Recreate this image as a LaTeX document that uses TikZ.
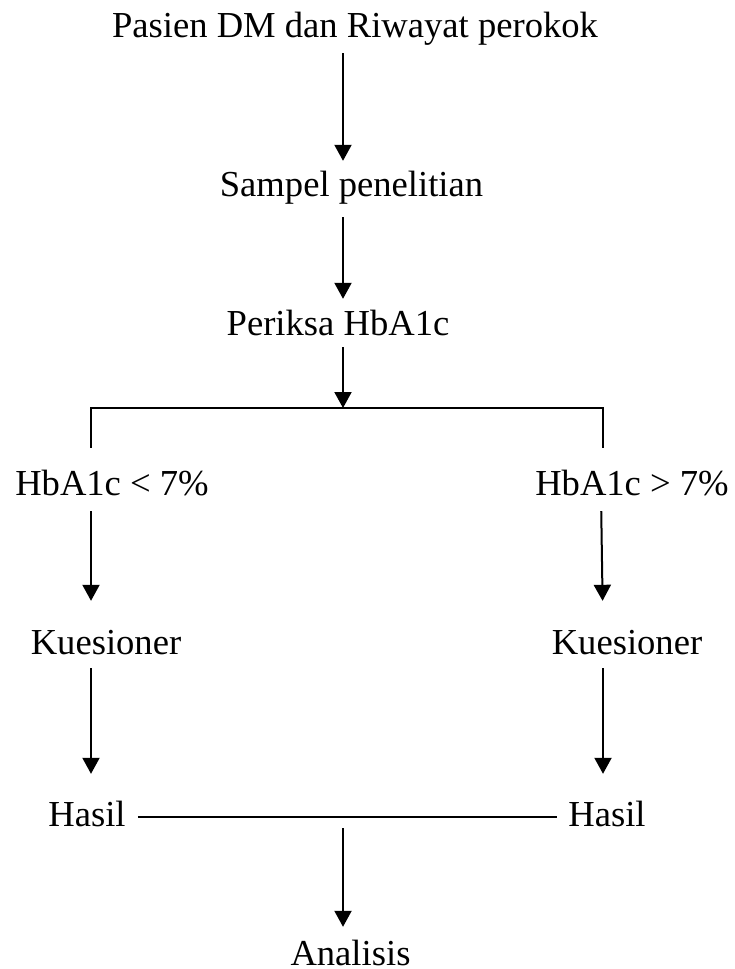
\documentclass[tikz,border=0pt]{standalone}
\usepackage{fontspec}
\setmainfont{Liberation Serif}
\usetikzlibrary{arrows.meta}
\begin{document}
\begin{tikzpicture}[x=1pt,y=-1pt,
  lbl/.style={anchor=base,inner sep=0pt,text height=25pt,text depth=0pt,font=\fontsize{36.6}{40}\selectfont},
  conn/.style={line width=2pt},
  arr/.style={conn,-{Triangle[width=17pt,length=16pt]}}]
\useasboundingbox (0,0) rectangle (735,969);
% nodes (anchor base = baseline)
\node[lbl] (t1) at (355,37) {Pasien DM dan Riwayat perokok};
\node[lbl] (t2) at (351.5,196) {Sampel penelitian};
\node[lbl] (t3) at (338,335) {Periksa HbA1c};
\node[lbl] (l1) at (112,495) {HbA1c < 7\%};
\node[lbl] (r1) at (632,495) {HbA1c > 7\%};
\node[lbl] (l2) at (106,654) {Kuesioner};
\node[lbl] (r2) at (627,654) {Kuesioner};
\node[lbl] (l3) at (87,826) {Hasil};
\node[lbl] (r3) at (607,826) {Hasil};
\node[lbl] (an) at (350.5,965) {Analisis};
% helper coordinates
\coordinate (cx) at (343,0);
\coordinate (split) at (343,408);
\coordinate (jL) at (91,408);
\coordinate (jR) at (603,408);
\coordinate (xR1) at (601,0);
\coordinate (merge) at (343,817);
% connectors
\draw[arr,shorten <=16pt,shorten >=10pt] (t1.south -| cx) -- (t2.north -| cx);
\draw[arr,shorten <=21pt,shorten >=11pt] (t2.south -| cx) -- (t3.north -| cx);
\draw[arr,shorten <=12pt] (t3.south -| cx) -- (split);
\draw[conn,shorten <=22pt,shorten >=22pt] (l1.north -| jL) -- (jL) -- (jR) -- (r1.north -| jR);
\draw[arr,shorten <=16pt,shorten >=28pt] (l1.south -| jL) -- (l2.north -| jL);
\draw[arr,shorten <=16pt,shorten >=28pt] (r1.south -| xR1) -- (r2.north -| jR);
\draw[arr,shorten <=14pt,shorten >=27pt] (l2.south -| jL) -- (l3.north -| jL);
\draw[arr,shorten <=14pt,shorten >=27pt] (r2.south -| jR) -- (r3.north -| jR);
\draw[conn,shorten <=12pt,shorten >=11pt] ([yshift=9pt]l3.base east) -- ([yshift=9pt]r3.base west);
\draw[arr,shorten <=11pt,shorten >=13pt] (merge) -- (an.north -| merge);
\end{tikzpicture}
\end{document}
